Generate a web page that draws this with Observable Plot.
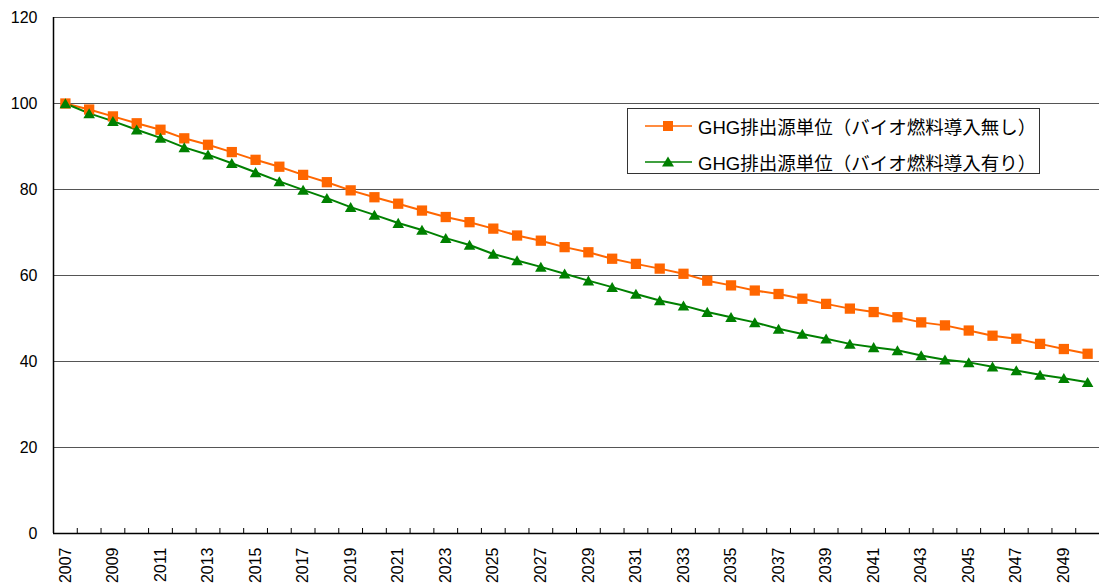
<!DOCTYPE html>
<html><head><meta charset="utf-8">
<script src="https://cdn.jsdelivr.net/npm/d3@7"></script>
<script src="https://cdn.jsdelivr.net/npm/@observablehq/plot@0.6"></script>
<style>
body{margin:0;background:#fff;font-family:"Liberation Sans",Arial,sans-serif;}
#wrap{position:relative;width:1099px;height:588px;}
#legend{position:absolute;left:627px;top:108px;width:411px;height:64px;border:1px solid #333;background:#fff;font-family:"Liberation Sans","Noto Sans CJK JP",sans-serif;font-size:18.5px;}
.row{position:absolute;left:0;height:20px;display:flex;align-items:center;}
.row svg{margin-left:17px;margin-right:6px;}
</style>
</head><body><div id="wrap"><div id="chart"></div>
<div id="legend"></div></div>
<script>
const years = d3.range(2007, 2051);
const seriesNames = ["GHG排出源単位（バイオ燃料導入無し）", "GHG排出源単位（バイオ燃料導入有り）"];
const noBiofuel = [100, 98.6, 97.0, 95.4, 93.9, 91.9, 90.4, 88.7, 86.9, 85.3, 83.4, 81.7, 79.8, 78.2, 76.7, 75.1, 73.6, 72.4, 70.9, 69.3, 68.1, 66.6, 65.4, 63.9, 62.7, 61.6, 60.4, 58.8, 57.7, 56.5, 55.7, 54.6, 53.4, 52.3, 51.5, 50.3, 49.1, 48.4, 47.2, 46.0, 45.3, 44.1, 42.9, 41.8];
const withBiofuel = [100, 97.7, 95.9, 93.9, 92.0, 89.8, 88.1, 86.1, 84.0, 81.9, 79.9, 78.0, 75.9, 74.1, 72.2, 70.6, 68.7, 67.1, 65.0, 63.5, 62.0, 60.4, 58.8, 57.3, 55.7, 54.2, 53.0, 51.5, 50.3, 49.1, 47.6, 46.4, 45.3, 44.1, 43.3, 42.6, 41.4, 40.4, 39.8, 38.8, 37.9, 36.9, 36.1, 35.2];
const yTicks = [0, 20, 40, 60, 80, 100, 120];
const xLabelYears = years.filter(y => (y - 2007) % 2 === 0);
const colors = ["#FF6600", "#008000"];

const dataA = years.map((y, i) => ({year: y, value: noBiofuel[i]}));
const dataB = years.map((y, i) => ({year: y, value: withBiofuel[i]}));
const boundaries = years.slice(0, -1).map(y => y + 0.5);

const chart = Plot.plot({
  width: 1099, height: 588,
  marginLeft: 53, marginRight: 0, marginTop: 17, marginBottom: 55,
  style: {fontFamily: '"Liberation Sans", Arial, sans-serif', fontSize: "16px", color: "#000", background: "#fff"},
  x: {domain: [2006.5, 2050.5], axis: null, label: null},
  y: {domain: [0, 120], axis: null, label: null},
  marks: [
    Plot.gridY(yTicks, {stroke: "#555", strokeOpacity: 1, strokeWidth: 1.2}),
    Plot.axisY(yTicks, {tickSize: 0, tickPadding: 16, fontSize: 16, label: null}),
    Plot.axisX(xLabelYears, {anchor: "bottom", tickSize: 0, tickRotate: -90, tickPadding: 14, tickFormat: d => String(d), fontSize: 16, label: null}),
    Plot.axisX(boundaries, {anchor: "bottom", tickSize: -5, text: null, stroke: "#000", strokeWidth: 1, label: null}),
    Plot.ruleX([2006.5], {stroke: "#000", strokeWidth: 1.5}),
    Plot.ruleY([0], {stroke: "#000", strokeWidth: 1.5}),
    Plot.line(dataA, {x: "year", y: "value", stroke: colors[0], strokeWidth: 2}),
    Plot.line(dataB, {x: "year", y: "value", stroke: colors[1], strokeWidth: 2}),
    Plot.dot(dataA, {x: "year", y: "value", symbol: "square", r: 5.8, fill: colors[0], stroke: "none"}),
    Plot.dot(dataB, {x: "year", y: "value", symbol: "triangle", r: 4.3, fill: colors[1], stroke: "none", dy: 1.5})
  ]
});
document.getElementById("chart").appendChild(chart);

const legend = document.getElementById("legend");
const tops = [7, 43];
seriesNames.forEach((name, i) => {
  const row = document.createElement("div");
  row.className = "row";
  row.style.top = tops[i] + "px";
  const marker = i === 0
    ? `<rect x="18" y="4" width="10" height="10" fill="${colors[i]}"/>`
    : `<polygon points="23,3.5 29,13.5 17,13.5" fill="${colors[i]}"/>`;
  row.innerHTML = `<svg width="47" height="18"><line x1="0" x2="47" y1="9" y2="9" stroke="${colors[i]}" stroke-width="1.5"/>${marker}</svg><span>${name}</span>`;
  legend.appendChild(row);
});
</script>
</body></html>
